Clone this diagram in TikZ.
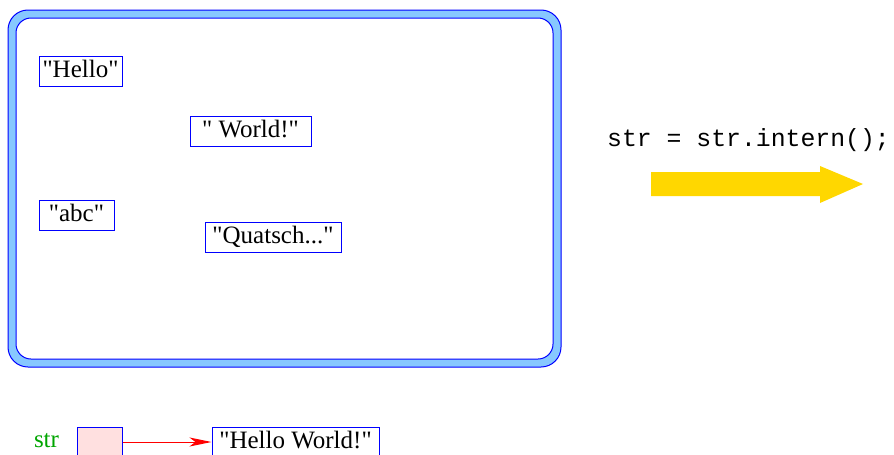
\documentclass[tikz,border=0pt]{standalone}
\usepackage{fontspec}
\setmainfont{Liberation Serif}[Ligatures=TeXOff]
\setmonofont{Liberation Mono}
\usetikzlibrary{arrows.meta}
\definecolor{poolblue}{RGB}{135,200,255}
\definecolor{boxblue}{RGB}{0,0,255}
\definecolor{refpink}{RGB}{255,224,224}
\definecolor{strgreen}{RGB}{0,165,0}
\definecolor{gold}{RGB}{255,215,0}

\begin{document}
\begin{tikzpicture}[x=1pt, y=-1pt,
    every node/.style={font=\fontsize{25}{28}\selectfont},
    strbox/.style={draw=boxblue, line width=1pt, inner sep=0pt, minimum height=30pt, text height=17pt, text depth=5pt}]
    \useasboundingbox (0,0) rectangle (894,455);

    % string pool
    \draw[boxblue, fill=poolblue, line width=1pt, rounded corners=20pt] (8,10) rectangle (561,367);
    \draw[boxblue, fill=white, line width=1pt, rounded corners=15pt] (16,18) rectangle (553,359);

    \node[strbox, minimum width=83pt] (hello) at (80.5,71) {"Hello"};
    \node[strbox, minimum width=121pt] (world) at (250.5,131) {" World!"};
    \node[strbox, minimum width=75pt] (abc) at (76.5,215) {"abc"};
    \node[strbox, minimum width=136pt] (quatsch) at (273,237) {"Quatsch..."};

    % reference
    \node[text=strgreen] (str) at (46.5,441) {str};
    \node[strbox, fill=refpink, minimum width=45pt] (ptr) at (99.5,442) {};
    \node[strbox, minimum width=167pt] (hw) at (295.5,442) {"Hello World!"};
    \draw[red, line width=1pt, -{Stealth[length=22pt, width=9pt, inset=6pt]}] (ptr) -- (hw);

    % intern
    \node[font=\fontsize{24.8}{28}\ttfamily] (code) at (748.5,140) {str = str.intern();};
    \fill[gold] (651,172) -- (820,172) -- (820,166) -- (863,184) -- (820,203) -- (820,196) -- (651,196) -- cycle;
\end{tikzpicture}
\end{document}
